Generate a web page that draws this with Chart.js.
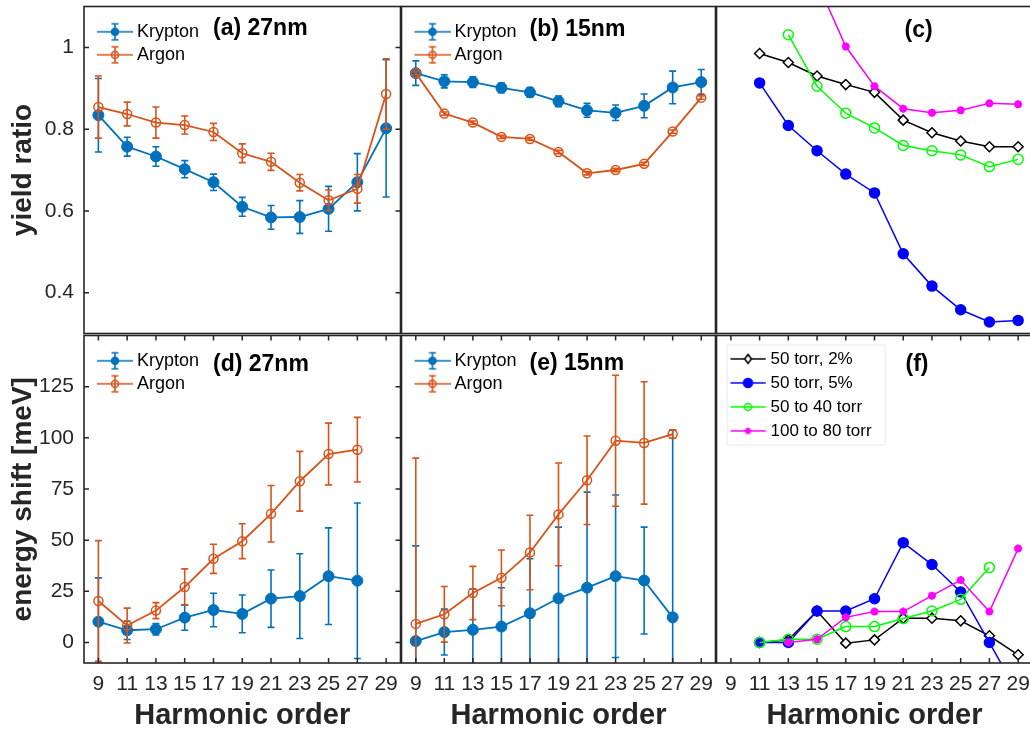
<!DOCTYPE html>
<html>
<head>
<meta charset="utf-8">
<script src="https://cdn.jsdelivr.net/npm/chart.js@4.4.1/dist/chart.umd.min.js"></script>
<style>
html, body { margin: 0; padding: 0; background: #fff; width: 1030px; height: 733px; overflow: hidden; }
canvas { position: absolute; }
</style>
</head>
<body>
<canvas id="pa"></canvas>
<canvas id="pb"></canvas>
<canvas id="pc"></canvas>
<canvas id="pd"></canvas>
<canvas id="pe"></canvas>
<canvas id="pf"></canvas>
<script>
const harmonics = [9, 11, 13, 15, 17, 19, 21, 23, 25, 27, 29];
const yieldTicks = [0.4, 0.6, 0.8, 1];
const shiftTicks = [0, 25, 50, 75, 100, 125];
const gasLabels = ['Krypton', 'Argon'];
const pressureLabels = ['50 torr, 2%', '50 torr, 5%', '50 to 40 torr', '100 to 80 torr'];
const panelTitles = ['(a) 27nm', '(b) 15nm', '(c)', '(d) 27nm', '(e) 15nm', '(f)'];

// (a) yield ratio 27nm
const krYield27 = [0.834, 0.757, 0.733, 0.702, 0.670, 0.610, 0.584, 0.585, 0.605, 0.670, 0.802];
const krYield27Err = [0.090, 0.023, 0.024, 0.021, 0.020, 0.023, 0.029, 0.040, 0.055, 0.070, 0.168];
const arYield27 = [0.854, 0.837, 0.816, 0.810, 0.793, 0.741, 0.720, 0.669, 0.626, 0.654, 0.886];
const arYield27Err = [0.076, 0.029, 0.038, 0.022, 0.021, 0.023, 0.021, 0.020, 0.025, 0.035, 0.086];

// (b) yield ratio 15nm
const krYield15 = [0.937, 0.917, 0.915, 0.901, 0.890, 0.868, 0.846, 0.840, 0.857, 0.902, 0.915];
const krYield15Err = [0.030, 0.016, 0.013, 0.012, 0.012, 0.013, 0.017, 0.019, 0.029, 0.040, 0.031];
const arYield15 = [0.937, 0.838, 0.816, 0.781, 0.776, 0.744, 0.692, 0.700, 0.715, 0.794, 0.877];
const arYield15Err = [0.004, 0.004, 0.004, 0.004, 0.004, 0.004, 0.004, 0.004, 0.004, 0.004, 0.004];

// (c) yield ratio, pressure scans
const yield50t2 = [null, 0.985, 0.963, 0.930, 0.909, 0.890, 0.822, 0.791, 0.771, 0.757, 0.757];
const yield50t5 = [null, 0.913, 0.809, 0.747, 0.690, 0.644, 0.495, 0.416, 0.358, 0.328, 0.332];
const yield50to40 = [null, null, 1.031, 0.905, 0.839, 0.803, 0.760, 0.747, 0.737, 0.708, 0.726];
const yield100to80 = [null, null, 1.30, 1.16, 1.002, 0.905, 0.850, 0.840, 0.846, 0.863, 0.861];

// (d) energy shift 27nm
const krShift27 = [10.2, 6.0, 6.5, 12.2, 15.9, 14.0, 21.4, 22.7, 32.4, 30.2, null];
const krShift27Err = [21.4, 4.5, 2.8, 6.2, 8.2, 9.2, 14.0, 20.7, 23.6, 38.0, null];
const arShift27 = [20.3, 8.3, 15.6, 27.1, 40.9, 49.5, 62.9, 78.8, 92.1, 94.2, null];
const arShift27Err = [29.5, 8.5, 3.9, 8.9, 7.1, 8.5, 13.8, 14.6, 15.1, 15.8, null];

// (e) energy shift 15nm
const krShift15 = [0.7, 5.1, 6.2, 7.8, 14.3, 21.6, 26.8, 32.4, 30.3, 12.3, null];
const krShift15Err = [46.5, 11.2, 20.0, 19.0, 26.6, 34.8, 46.7, 39.7, 26.1, 91.6, null];
const arShift15 = [9.1, 13.8, 24.2, 31.6, 44.0, 62.6, 79.3, 98.6, 97.5, 101.8, null];
const arShift15Err = [81.0, 13.6, 13.0, 13.6, 18.2, 25.1, 21.6, 32.0, 29.9, 2.0, null];

// (f) energy shift, pressure scans
const shift50t2 = [null, 0, 1.3, 15.4, -0.3, 1.3, 11.9, 11.9, 10.6, 3.3, -6.0];
const shift50t5 = [null, 0, 0, 15.4, 15.4, 21.4, 48.8, 38.1, 24.7, 0, -25];
const shift50to40 = [null, 0, 1.6, 1.6, 7.8, 7.8, 11.7, 15.4, 21.1, 36.7, null];
const shift100to80 = [null, null, 0, 1.6, 12.3, 15.1, 15.1, 22.9, 30.5, 15.1, 45.9];

const KR = '#0072BD', AR = '#D95319';
const P_COLORS = ['#000000', '#0000FF', '#00FF00', '#FF00FF'];
const AXIS = '#262626';
const NARROW = "'Liberation Sans Narrow', 'Liberation Sans', Arial, sans-serif";
const REG = "'Liberation Sans', Arial, sans-serif";

const pts = arr => harmonics.map((h, i) => ({x: h, y: arr[i]}));

// error bars drawn under each dataset's line and markers
const errorBars = {
  id: 'errorBars',
  beforeDatasetDraw(chart, args) {
    const ds = chart.data.datasets[args.index];
    if (!ds.errors) return;
    const {ctx, chartArea: a, scales: {x, y}} = chart;
    ctx.save();
    ctx.beginPath();
    ctx.rect(a.left, a.top, a.right - a.left, a.bottom - a.top);
    ctx.clip();
    ctx.strokeStyle = ds.borderColor;
    ctx.lineWidth = 1.6;
    ds.data.forEach((p, i) => {
      const e = ds.errors[i];
      if (p.y == null || e == null) return;
      const px = x.getPixelForValue(p.x);
      const y1 = y.getPixelForValue(p.y - e), y2 = y.getPixelForValue(p.y + e);
      ctx.beginPath();
      ctx.moveTo(px, y1); ctx.lineTo(px, y2);
      ctx.moveTo(px - 3.5, y1); ctx.lineTo(px + 3.5, y1);
      ctx.moveTo(px - 3.5, y2); ctx.lineTo(px + 3.5, y2);
      ctx.stroke();
    });
    ctx.restore();
  }
};

// box + inward tick marks, matlab style
const frame = {
  id: 'frame',
  afterDraw(chart, args, o) {
    const {ctx, chartArea: a, scales: {x, y}} = chart;
    ctx.save();
    ctx.strokeStyle = AXIS;
    ctx.lineWidth = 1.5;
    ctx.beginPath();
    if (o.xTicks) x.ticks.forEach(t => {
      const px = x.getPixelForValue(t.value);
      ctx.moveTo(px, a.bottom); ctx.lineTo(px, a.bottom - 5);
      ctx.moveTo(px, a.top); ctx.lineTo(px, a.top + 5);
    });
    if (o.yTicks) y.ticks.forEach(t => {
      const py = y.getPixelForValue(t.value);
      ctx.moveTo(a.left, py); ctx.lineTo(a.left + 5, py);
      ctx.moveTo(a.right, py); ctx.lineTo(a.right - 5, py);
    });
    ctx.stroke();
    ctx.lineWidth = 1.6;
    ctx.strokeRect(a.left, a.top, a.right - a.left, a.bottom - a.top);
    ctx.restore();
  }
};

const panelLabel = {
  id: 'panelLabel',
  afterDraw(chart, args, o) {
    if (!o.text) return;
    const {ctx, chartArea: a} = chart;
    ctx.save();
    ctx.font = 'bold 23px ' + REG;
    ctx.fillStyle = '#000';
    ctx.textBaseline = 'middle';
    ctx.fillText(o.text, a.left + o.dx, a.top + o.dy);
    ctx.restore();
  }
};

const legendBox = {
  id: 'legendBox',
  beforeDraw(chart, args, o) {
    if (!o.show || !chart.legend) return;
    const {ctx} = chart, lg = chart.legend;
    ctx.save();
    ctx.fillStyle = '#fff';
    ctx.strokeStyle = '#ebebeb';
    ctx.lineWidth = 1;
    ctx.fillRect(lg.left + o.dx, lg.top + o.dy, o.w, o.h);
    ctx.strokeRect(lg.left + o.dx, lg.top + o.dy, o.w, o.h);
    ctx.restore();
  }
};

function drawMarker(g, kind, x, y, r, color) {
  g.beginPath();
  if (kind === 'diamond') {
    g.moveTo(x, y - r); g.lineTo(x + r * 0.75, y); g.lineTo(x, y + r); g.lineTo(x - r * 0.75, y); g.closePath();
    g.fillStyle = '#fff'; g.fill(); g.stroke();
  } else if (kind === 'star') {
    for (let k = 0; k < 4; k++) {
      const an = k * Math.PI / 4;
      g.moveTo(x - r * Math.cos(an), y - r * Math.sin(an));
      g.lineTo(x + r * Math.cos(an), y + r * Math.sin(an));
    }
    g.stroke();
  } else {
    g.arc(x, y, r, 0, Math.PI * 2);
    if (kind === 'filled') { g.fillStyle = color; g.fill(); }
    g.stroke();
  }
}

function icon(w, h, x0, x1, xm, color, kind, r, err) {
  const c = document.createElement('canvas');
  c.width = w; c.height = h;
  const g = c.getContext('2d');
  const cy = h / 2;
  g.strokeStyle = color;
  g.lineWidth = 1.6;
  g.beginPath(); g.moveTo(x0, cy); g.lineTo(x1, cy); g.stroke();
  if (err) {
    g.beginPath();
    g.moveTo(xm, cy - err); g.lineTo(xm, cy + err);
    g.moveTo(xm - 3.5, cy - err); g.lineTo(xm + 3.5, cy - err);
    g.moveTo(xm - 3.5, cy + err); g.lineTo(xm + 3.5, cy + err);
    g.stroke();
  }
  drawMarker(g, kind, xm, cy, r, color);
  return c;
}

const gasIcons = [icon(49, 24, 13, 49, 31, KR, 'filled', 3.5, 8), icon(49, 24, 13, 49, 31, AR, 'open', 3.5, 8)];
const pressIcons = [
  icon(46, 20, 10.75, 45.75, 28.25, P_COLORS[0], 'diamond', 4.5),
  icon(46, 20, 10.75, 45.75, 28.25, P_COLORS[1], 'filled', 4.5),
  icon(46, 20, 10.75, 45.75, 28.25, P_COLORS[2], 'open', 3.5),
  icon(46, 20, 10.75, 45.75, 28.25, P_COLORS[3], 'star', 3.5)
];

function legendCfg(fontSize, pad, spacer, spacerPad, bw, icons) {
  return {
    display: true,
    position: 'chartArea',
    align: 'start',
    title: {display: true, text: ' ', font: {size: spacer}, padding: {top: 0, bottom: spacerPad}},
    labels: {
      usePointStyle: true,
      pointStyleWidth: bw,
      padding: pad,
      color: '#000',
      font: {family: REG, size: fontSize},
      sort: (a, b) => a.datasetIndex - b.datasetIndex,
      generateLabels: chart => Chart.defaults.plugins.legend.labels.generateLabels(chart)
        .map(it => Object.assign(it, {pointStyle: icons[it.datasetIndex]}))
    }
  };
}

function gasSets(kr, krErr, ar, arErr) {
  return [
    {label: gasLabels[0], data: pts(kr), errors: krErr, borderColor: KR, backgroundColor: KR,
     borderWidth: 1.8, pointRadius: 5.5, pointBackgroundColor: KR, pointBorderColor: KR, pointBorderWidth: 1, order: 1},
    {label: gasLabels[1], data: pts(ar), errors: arErr, borderColor: AR, backgroundColor: AR,
     borderWidth: 1.8, pointRadius: 4.5, pointBackgroundColor: 'rgba(0,0,0,0)', pointBorderColor: AR, pointBorderWidth: 1.5, order: 0}
  ];
}

function pressureSets(s1, s2, s3, s4) {
  return [
    {label: pressureLabels[0], data: pts(s1), borderColor: P_COLORS[0], borderWidth: 1.5, pointStyle: 'rectRot',
     pointRadius: 5, pointBackgroundColor: '#fff', pointBorderColor: P_COLORS[0], pointBorderWidth: 1.5, order: 3},
    {label: pressureLabels[1], data: pts(s2), borderColor: P_COLORS[1], borderWidth: 1.5, pointStyle: 'circle',
     pointRadius: 5, pointBackgroundColor: P_COLORS[1], pointBorderColor: P_COLORS[1], order: 2},
    {label: pressureLabels[2], data: pts(s3), borderColor: P_COLORS[2], borderWidth: 1.5, pointStyle: 'circle',
     pointRadius: 5, pointBackgroundColor: 'rgba(0,0,0,0)', pointBorderColor: P_COLORS[2], pointBorderWidth: 1.5, order: 1},
    {label: pressureLabels[3], data: pts(s4), borderColor: P_COLORS[3], borderWidth: 1.5, pointStyle: 'star',
     pointRadius: 4, pointBackgroundColor: P_COLORS[3], pointBorderColor: P_COLORS[3], pointBorderWidth: 2.5, order: 0}
  ];
}

function xScale(show) {
  return {
    type: 'linear', min: 8, max: 30, display: show,
    afterBuildTicks: s => { s.ticks = harmonics.map(v => ({value: v})); },
    afterFit: s => { if (show) s.height = 70; s.paddingLeft = 0; s.paddingRight = 0; },
    grid: {display: false, drawTicks: false},
    border: {display: false},
    ticks: {autoSkip: false, maxRotation: 0, padding: 9, color: AXIS, font: {family: NARROW, size: 21}},
    title: {display: true, text: 'Harmonic order', color: AXIS, font: {family: REG, size: 29, weight: 'bold'}, padding: {top: 0, bottom: 0}}
  };
}

function yScale(min, max, ticks, title, show) {
  return {
    type: 'linear', min: min, max: max, display: show,
    afterBuildTicks: s => { s.ticks = ticks.map(v => ({value: v})); },
    afterFit: s => { if (show) s.width = 84; s.paddingTop = 0; s.paddingBottom = 0; },
    grid: {display: false, drawTicks: false},
    border: {display: false},
    ticks: {padding: 10, color: AXIS, font: {family: NARROW, size: 21}, callback: v => String(v)},
    title: {display: true, text: title, color: AXIS, font: {family: REG, size: 28, weight: 'bold'}, padding: {top: 6, bottom: 0}}
  };
}

function makeChart(id, box, cfg) {
  const cv = document.getElementById(id);
  cv.width = box[2]; cv.height = box[3];
  cv.style.left = box[0] + 'px';
  cv.style.top = box[1] + 'px';
  return new Chart(cv, {
    type: 'line',
    data: {datasets: cfg.datasets},
    options: {
      responsive: false,
      animation: false,
      devicePixelRatio: 1,
      layout: {padding: cfg.padding},
      elements: {line: {tension: 0}},
      scales: {x: xScale(cfg.showX), y: cfg.y},
      plugins: {
        legend: cfg.legend || {display: false},
        tooltip: {enabled: false},
        frame: {xTicks: cfg.showX, yTicks: cfg.yTicks},
        panelLabel: cfg.label,
        legendBox: cfg.legendBox || {show: false}
      }
    },
    plugins: [legendBox, errorBars, frame, panelLabel]
  });
}

const gasLegend = legendCfg(18, 5, 9, 7, 39, gasIcons);

makeChart('pa', [0, 0, 407, 340], {
  datasets: gasSets(krYield27, krYield27Err, arYield27, arYield27Err),
  padding: {left: 0, top: 6, right: 6, bottom: 6}, showX: false, yTicks: true,
  y: yScale(0.3, 1.1, yieldTicks, 'yield ratio', true),
  legend: gasLegend, label: {text: panelTitles[0], dx: 129, dy: 22.5}
});
makeChart('pb', [395, 0, 327, 340], {
  datasets: gasSets(krYield15, krYield15Err, arYield15, arYield15Err),
  padding: {left: 6, top: 6, right: 6, bottom: 6}, showX: false, yTicks: false,
  y: yScale(0.3, 1.1, yieldTicks, 'yield ratio', false),
  legend: gasLegend, label: {text: panelTitles[1], dx: 128, dy: 22.7}
});
makeChart('pc', [710, 0, 329, 340], {
  datasets: pressureSets(yield50t2, yield50t5, yield50to40, yield100to80),
  padding: {left: 6, top: 6, right: 6, bottom: 6}, showX: false, yTicks: false,
  y: yScale(0.3, 1.1, yieldTicks, 'yield ratio', false),
  label: {text: panelTitles[2], dx: 188, dy: 24}
});
makeChart('pd', [0, 329, 407, 404], {
  datasets: gasSets(krShift27, krShift27Err, arShift27, arShift27Err),
  padding: {left: 0, top: 6, right: 6, bottom: 0}, showX: true, yTicks: true,
  y: yScale(-10, 150, shiftTicks, 'energy shift [meV]', true),
  legend: gasLegend, label: {text: panelTitles[3], dx: 129, dy: 28.8}
});
makeChart('pe', [395, 329, 327, 404], {
  datasets: gasSets(krShift15, krShift15Err, arShift15, arShift15Err),
  padding: {left: 6, top: 6, right: 6, bottom: 0}, showX: true, yTicks: false,
  y: yScale(-10, 150, shiftTicks, 'energy shift [meV]', false),
  legend: gasLegend, label: {text: panelTitles[4], dx: 128, dy: 28.3}
});
makeChart('pf', [710, 329, 329, 404], {
  datasets: pressureSets(shift50t2, shift50t5, shift50to40, shift100to80),
  padding: {left: 6, top: 6, right: 6, bottom: 0}, showX: true, yTicks: false,
  y: yScale(-10, 150, shiftTicks, 'energy shift [meV]', false),
  legend: legendCfg(17, 7, 7, 6, 38.5, pressIcons),
  legendBox: {show: true, dx: 10.7, dy: 16, w: 158, h: 100},
  label: {text: panelTitles[5], dx: 189, dy: 29}
});
</script>
</body>
</html>
